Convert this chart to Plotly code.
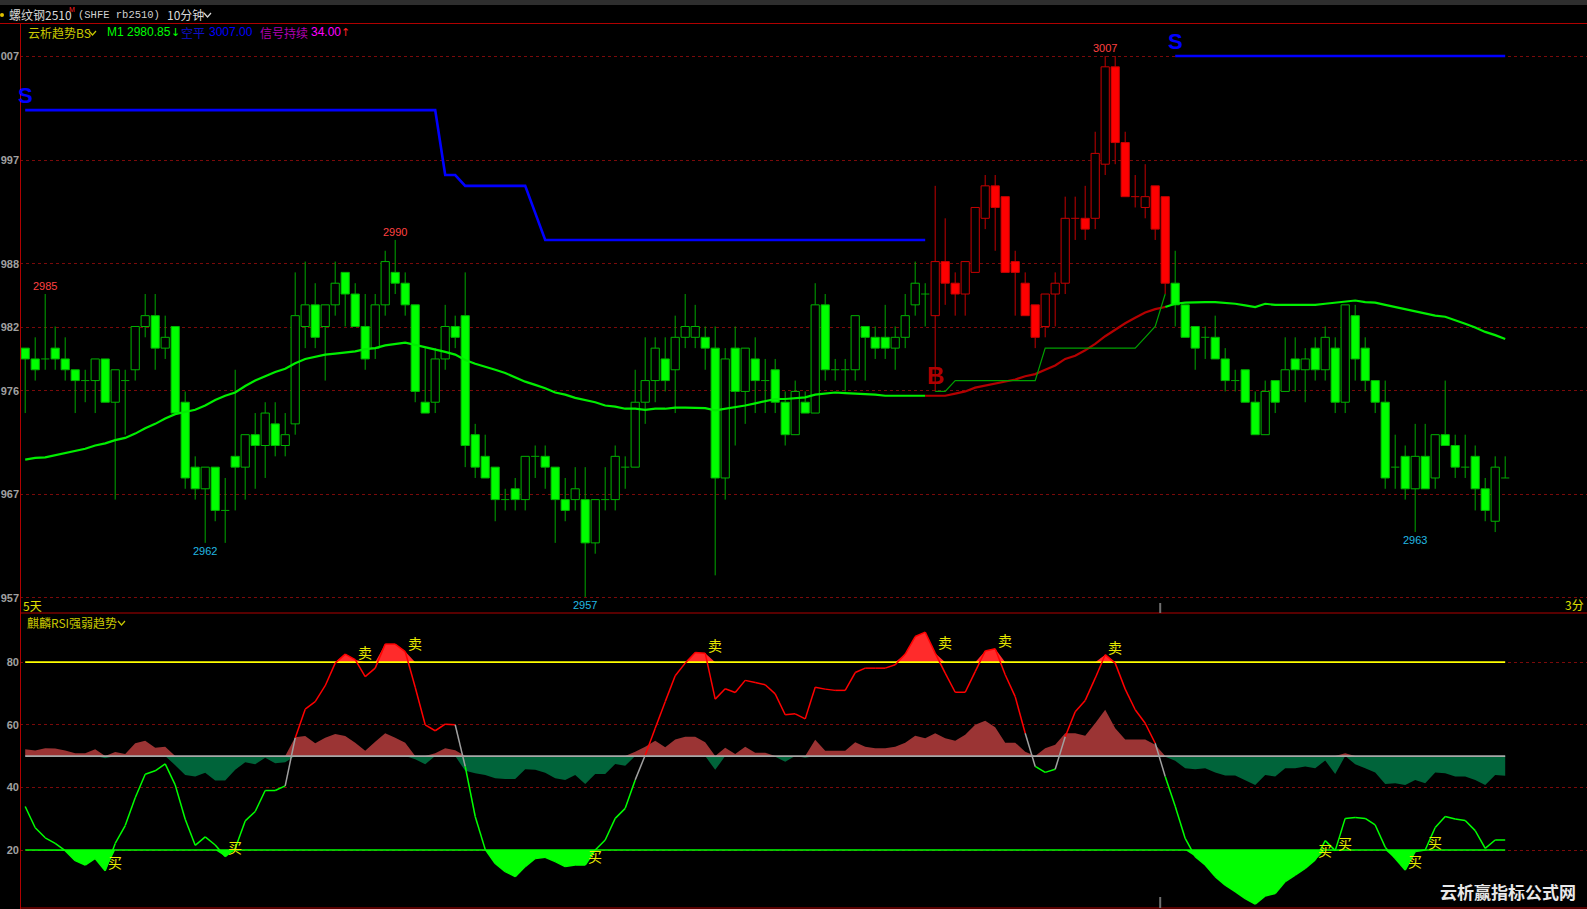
import plotly.graph_objects as go

# ---------------- data ----------------
opens = [2980,2979,2979,2980,2979,2978,2977,2977,2979,2975,
         2977,2978,2982,2983,2980,2982,2975,2969,2967,2969,
         2965,2970,2969,2972,2971,2973,2971,2973,2982,2984,
         2982,2984,2987,2985,2982,2980,2984,2987,2986,2984,
         2975,2975,2979,2982,2983,2972,2970,2969,2966,2967,
         2966,2970,2970,2969,2966,2966,2966,2962,2966,2966,
         2969,2969,2975,2977,2979,2978,2981,2981,2981,2980,
         2968,2980,2976,2979,2977,2978,2975,2972,2975,2974,
         2984,2978,2978,2978,2982,2981,2981,2980,2981,2984,
         2985,2983,2988,2986,2985,2987,2992,2995,2994,2988,
         2986,2984,2982,2985,2986,2992,2992,2992,2997,3006,
         2999,2994,2993,2995,2994,2986,2984,2982,2981,2981,
         2979,2977,2978,2975,2972,2977,2976,2979,2978,2980,
         2978,2980,2975,2983,2980,2977,2975,2969,2970,2967,
         2970,2968,2972,2971,2969,2970,2967,2964,2968]
highs = [2980,2981,2985,2982,2981,2978,2978,2979,2979,2978,
         2978,2982,2985,2985,2983,2982,2976,2970,2969,2969,
         2968,2978,2972,2974,2975,2975,2974,2987,2988,2986,
         2984,2988,2987,2986,2985,2985,2989,2990,2987,2984,
         2980,2980,2984,2983,2987,2973,2972,2969,2967,2968,
         2970,2971,2971,2969,2968,2969,2969,2966,2969,2971,
         2970,2978,2981,2981,2981,2983,2985,2984,2982,2982,
         2980,2982,2980,2981,2979,2979,2976,2977,2976,2986,
         2985,2979,2979,2983,2982,2982,2984,2982,2985,2988,
         2986,2995,2992,2987,2988,2993,2996,2996,2994,2989,
         2987,2984,2985,2987,2994,2994,2995,3000,3007,3007,
         3000,2996,2997,2995,2994,2989,2984,2982,2982,2983,
         2980,2978,2978,2976,2977,2977,2981,2981,2980,2981,
         2982,2981,2984,2984,2981,2977,2977,2972,2971,2973,
         2973,2972,2977,2972,2972,2971,2968,2970,2970]
lows = [2974,2977,2978,2978,2977,2974,2975,2974,2975,2966,
        2972,2977,2981,2978,2979,2974,2967,2966,2962,2964,
        2962,2965,2966,2967,2968,2970,2970,2972,2980,2980,
        2977,2983,2982,2982,2978,2979,2983,2985,2983,2975,
        2974,2974,2978,2980,2969,2968,2968,2964,2965,2965,
        2965,2968,2967,2962,2964,2965,2957,2961,2965,2965,
        2967,2969,2973,2975,2976,2974,2980,2980,2978,2959,
        2966,2971,2973,2974,2974,2974,2971,2972,2974,2974,
        2977,2977,2976,2977,2977,2979,2979,2978,2980,2983,
        2982,2976,2984,2983,2983,2987,2991,2989,2987,2983,
        2983,2980,2981,2982,2985,2990,2990,2991,2996,2997,
        2994,2993,2992,2990,2985,2982,2981,2978,2979,2979,
        2976,2976,2975,2972,2972,2974,2976,2976,2975,2977,
        2977,2974,2974,2977,2976,2974,2967,2967,2966,2963,
        2967,2967,2971,2968,2968,2965,2964,2963,2968]
closes = [2979,2978,2979,2979,2978,2977,2977,2979,2975,2978,
          2977,2982,2983,2980,2981,2974,2968,2967,2969,2965,
          2965,2969,2972,2971,2974,2971,2972,2983,2984,2981,
          2984,2986,2985,2982,2979,2984,2988,2986,2984,2976,
          2974,2979,2982,2981,2971,2969,2968,2966,2966,2966,
          2970,2970,2969,2966,2965,2967,2962,2966,2966,2970,
          2969,2975,2977,2980,2977,2981,2982,2982,2980,2968,
          2979,2976,2980,2977,2977,2975,2972,2976,2974,2984,
          2978,2978,2978,2983,2981,2980,2980,2981,2983,2986,
          2985,2988,2986,2985,2988,2993,2995,2993,2987,2987,
          2983,2981,2985,2986,2992,2992,2991,2998,3006,2999,
          2994,2994,2994,2991,2986,2984,2981,2980,2981,2979,
          2977,2977,2975,2972,2976,2975,2978,2978,2979,2978,
          2981,2975,2984,2979,2977,2975,2968,2969,2967,2970,
          2967,2972,2971,2969,2969,2967,2965,2969,2968]
ma1 = [2969.7,2969.85,2969.9,2970.1,2970.35,2970.5,2970.7,2971.0,2971.2,2971.5,
       2971.7,2972.1,2972.6,2973.0,2973.5,2973.9,2974.1,2974.3,2974.7,2975.2,
       2975.6,2975.9,2976.5,2977.0,2977.4,2977.8,2978.1,2978.6,2979.0,2979.2,
       2979.4,2979.5,2979.6,2979.7,2979.9,2980.0,2980.25,2980.4,2980.5,2980.3,
       2980.1,2979.9,2979.65,2979.4,2978.9,2978.55,2978.3,2978.0,2977.7,2977.3,
       2976.9,2976.6,2976.3,2975.9,2975.7,2975.4,2975.2,2975.0,2974.7,2974.6,
       2974.4,2974.4,2974.3,2974.4,2974.4,2974.5,2974.5,2974.45,2974.45,2974.25,
       2974.4,2974.5,2974.7,2974.9,2975.1,2975.3,2975.3,2975.4,2975.45,2975.7,
       2975.8,2975.9,2975.85,2975.8,2975.8,2975.7,2975.6,2975.6,2975.65,2975.65,
       2975.6,2975.6,2975.6,2975.8,2976.0,2976.35,2976.55,2976.7,2976.9,2977.1,
       2977.4,2977.6,2978.0,2978.4,2979.0,2979.3,2979.8,2980.4,2981.1,2981.7,
       2982.3,2982.8,2983.3,2983.6,2983.8,2984.1,2984.2,2984.25,2984.25,2984.25,
       2984.2,2984.1,2983.95,2983.8,2984.1,2984.0,2984.0,2984.0,2984.0,2984.0,
       2984.1,2984.2,2984.25,2984.4,2984.25,2984.2,2984.0,2983.8,2983.6,2983.35,
       2983.2,2983.0,2982.9,2982.6,2982.25,2981.9,2981.5,2981.2,2980.85]
short_stop = [3002.0]*42 + [2996.0]*2 + [2995.0]*7 + [2992.5] + [2990.0]*39 + [None]*24 + [3007.0]*34
long_stop = [None]*91 + [2976.0]*2 + [2977.0]*9 + [2980.0]*10 + [2981.0, 2982.0, 2985.0] + [None]*34
rsi = [33.9,27.1,23.9,22.1,19.8,16.6,15.2,17.3,13.4,22.1,
       27.8,36.7,44.2,45.3,47.5,40.8,29.8,21.5,24.2,21.6,
       17.9,20.5,29.3,32.3,39.0,39.0,40.5,55.8,65.0,67.4,
       72.5,79.7,82.6,80.8,75.4,78.1,85.8,85.8,83.4,72.0,
       60.0,58.1,60.2,60.0,46.7,30.7,20.2,15.7,13.1,11.5,
       14.7,17.3,17.7,16.3,14.7,15.2,15.2,20.0,23.2,30.1,
       33.3,42.4,50.3,58.9,67.4,75.7,79.7,83.1,82.9,68.2,
       71.5,70.3,74.2,73.5,72.8,69.9,63.2,63.5,61.9,72.0,
       71.4,71.0,71.0,76.7,78.1,78.1,78.1,79.2,82.6,88.2,
       89.6,82.9,76.5,70.4,70.4,77.0,83.6,84.3,76.0,69.0,
       57.3,46.7,44.8,45.8,56.2,64.2,67.8,74.9,82.4,79.7,
       71.4,64.8,60.5,54.1,43.5,34.0,23.7,17.9,15.2,11.5,
       8.8,6.7,4.5,2.7,5.3,6.1,9.9,12.0,14.1,16.8,
       23.0,19.8,30.1,30.4,30.1,28.0,20.9,17.3,13.6,19.5,
       20.0,27.2,30.7,29.9,29.4,26.2,20.5,23.2,23.2]
trend = [52.2,51.8,52.5,52.4,51.8,50.9,50.9,52.2,49.3,51.3,
         50.7,54.1,54.9,52.7,53.0,47.1,44.0,43.5,44.7,42.2,
         42.2,45.6,48.0,47.4,49.5,47.7,48.0,56.0,56.4,54.1,
         55.9,57.1,56.4,54.3,51.7,54.6,57.3,55.9,54.3,49.0,
         47.4,50.9,52.5,51.9,45.3,44.5,44.0,42.9,42.7,42.7,
         45.8,45.6,44.7,42.9,42.4,44.0,41.1,44.3,44.3,47.5,
         46.9,51.4,53.0,54.9,52.8,55.3,56.2,56.2,54.4,45.6,
         52.7,50.7,53.0,51.1,51.1,49.8,48.2,50.1,49.5,55.2,
         51.7,51.7,51.7,54.4,53.0,52.5,52.5,53.0,54.3,56.5,
         55.7,57.3,55.7,54.9,56.8,60.0,61.3,59.2,54.3,54.3,
         51.4,49.8,52.5,53.6,57.3,57.3,56.5,60.5,64.8,58.9,
         55.3,55.3,55.3,53.6,49.8,48.5,46.1,45.8,46.1,44.8,
         43.8,43.8,42.4,40.8,44.0,43.5,46.1,46.1,46.7,46.1,
         48.6,44.3,50.9,47.4,46.1,44.8,41.1,41.3,40.8,42.4,
         41.3,44.8,44.5,43.5,43.5,42.4,40.8,44.0,43.7]
sell_idx = [34, 39, 69, 92, 98, 109]
sell_val = [83.3, 86.1, 85.5, 86.5, 87.1, 84.9]
buy_idx = [9, 21, 57, 130, 132, 139, 141]
buy_val = [16.2, 21.0, 18.1, 20.0, 22.2, 16.5, 22.6]
high_label_idx = [2, 37, 108]
low_label_idx = [18, 56, 139]
long_first, long_last = 91, 114        # candles of the long (red) phase
ma_red_first, ma_red_last = 90, 114
day_break = 113.5

price_ticks = [3007.0, 2997.35, 2987.78, 2981.91, 2976.07, 2966.5, 2956.92]
price_ticktext = ['007', '997', '988', '982', '976', '967', '957']
rsi_ticks = [80, 60, 40, 20]
rsi_ticktext = ['80', '60', '40', '20']

# ---------------- layout helpers ----------------
W, H = 1587, 909
LEFT = 20
def px(x):
    return (x - LEFT) / (W - LEFT)
def py(y):
    return 1 - y / H

N = len(closes)
IDX = list(range(N))
fig = go.Figure()
SK = dict(hoverinfo='skip', showlegend=False)

styles = {
    'green': dict(fill='#00ff00', edge='#00b400', wick='#00a800'),
    'red': dict(fill='#ff0000', edge='#c80000', wick='#c40000'),
}
for ph in ('green', 'red'):
    st = styles[ph]
    sel = [i for i in IDX if (long_first <= i <= long_last) == (ph == 'red')]
    for kind in ('filled', 'hollow'):
        xs, bs, hs = [], [], []
        for i in sel:
            o, c = opens[i], closes[i]
            if (kind == 'filled' and c < o) or (kind == 'hollow' and c > o):
                xs.append(i); bs.append(min(o, c)); hs.append(abs(c - o))
        fig.add_trace(go.Bar(x=xs, y=hs, base=bs, width=0.82,
                             marker=dict(color=st['fill'] if kind == 'filled' else '#000000',
                                         line=dict(color=st['edge'], width=1)),
                             xaxis='x', yaxis='y', **SK))
    wx, wy = [], []
    for i in sel:
        o, h, l, c = opens[i], highs[i], lows[i], closes[i]
        top, bot = max(o, c), min(o, c)
        if h > top:
            wx += [i, i, None]; wy += [top, h, None]
        if l < bot:
            wx += [i, i, None]; wy += [bot, l, None]
        if o == c:
            wx += [i - 0.41, i + 0.41, None]; wy += [o, o, None]
    fig.add_trace(go.Scatter(x=wx, y=wy, mode='lines', line=dict(color=st['wick'], width=1),
                             xaxis='x', yaxis='y', **SK))

# moving average (green / red phase)
ma_g1 = [v if i <= ma_red_first else None for i, v in enumerate(ma1)]
ma_r = [v if ma_red_first <= i <= ma_red_last else None for i, v in enumerate(ma1)]
ma_g2 = [v if i >= ma_red_last else None for i, v in enumerate(ma1)]
for ys, col in ((ma_g1, '#00ee00'), (ma_g2, '#00ee00'), (ma_r, '#b40000')):
    fig.add_trace(go.Scatter(x=IDX, y=ys, mode='lines', line=dict(color=col, width=2.2),
                             connectgaps=False, xaxis='x', yaxis='y', **SK))
# stops
fig.add_trace(go.Scatter(x=IDX, y=long_stop, mode='lines', line=dict(color='#00a000', width=1.2),
                         connectgaps=False, xaxis='x', yaxis='y', **SK))
fig.add_trace(go.Scatter(x=IDX, y=short_stop, mode='lines', line=dict(color='#0000ff', width=2.6),
                         connectgaps=False, xaxis='x', yaxis='y', **SK))

# ---------------- RSI panel ----------------
R = dict(xaxis='x2', yaxis='y2')
def band(base, vals, col):
    fig.add_trace(go.Scatter(x=IDX, y=[base]*N, mode='lines', line=dict(width=0, color='rgba(0,0,0,0)'), **R, **SK))
    fig.add_trace(go.Scatter(x=IDX, y=vals, mode='lines', line=dict(width=0, color='rgba(0,0,0,0)'),
                             fill='tonexty', fillcolor=col, **R, **SK))
band(50, [max(v, 50) for v in trend], '#9b3434')
band(50, [min(v, 50) for v in trend], '#00643a')
band(80, [max(v, 80) for v in rsi], '#ff2b2b')
band(20, [min(v, 20) for v in rsi], '#00ff00')
for lv, col in ((80, '#ffff00'), (20, '#00ff00'), (50, '#a8a8a8')):
    fig.add_trace(go.Scatter(x=[0, N - 1], y=[lv, lv], mode='lines', line=dict(color=col, width=1.7), **R, **SK))
segs = {'#ff0000': ([], []), '#00ff00': ([], []), '#a0a0a0': ([], [])}
for i in range(N - 1):
    a, b = rsi[i], rsi[i + 1]
    if a >= 50 and b >= 50:
        k = '#ff0000'
    elif a < 50 and b < 50:
        k = '#00ff00'
    else:
        k = '#a0a0a0'
    segs[k][0].extend([i, i + 1, None]); segs[k][1].extend([a, b, None])
for col, (xs, ys) in segs.items():
    fig.add_trace(go.Scatter(x=xs, y=ys, mode='lines', line=dict(color=col, width=1.5),
                             connectgaps=False, **R, **SK))

# ---------------- annotations ----------------
LAT = 'Liberation Sans, Noto Sans CJK SC'
CJK = 'Noto Sans CJK SC, Liberation Sans'
anns = []
def ann(text, x, y, color, size=12, family=LAT, xanchor='left', yanchor='middle'):
    anns.append(dict(text=text, x=px(x), y=py(y), xref='paper', yref='paper', xanchor=xanchor,
                     yanchor=yanchor, showarrow=False, font=dict(color=color, size=size, family=family)))

ann('螺纹钢2510', 7, 15, '#d8d8d8', 12, CJK)
ann('M', 67, 10, '#ff2020', 7)
ann('(SHFE rb2510)', 76, 15, '#d0d0d0', 10.5, 'Liberation Mono')
ann('10分钟', 165, 15, '#d8d8d8', 12, CJK)
ann('云析趋势BS', 26, 32, '#c8c800', 12, CJK)
ann(f'M1 {ma1[-1]:.2f}', 105, 32, '#00ff00', 12)
ann('↓', 169, 32, '#00ff00', 11, 'DejaVu Sans')
ann('空平', 179, 32, '#1010c8', 12, CJK)
ann(f'{short_stop[-1]:.2f}', 207, 32, '#0000ff', 12)
last_run = max(i for i in IDX if short_stop[i] is not None and (i == 0 or short_stop[i - 1] is None))
ann('信号持续', 258, 32, '#b000b0', 12, CJK)
ann(f'{N - last_run:.2f}', 309, 32, '#ff00ff', 12)
ann('↑', 339, 32, '#ff2020', 11, 'DejaVu Sans')
ann('麒麟RSI强弱趋势', 25, 622, '#c8c800', 12, CJK)
ann('5天', 21, 605, '#e0e000', 12, CJK)
ann('3分', 1586, 604, '#e0e000', 12, CJK, xanchor='right')
ann('<b>云析赢指标公式网</b>', 1508, 891, '#e8e8e8', 17, CJK, xanchor='center')

for i in high_label_idx:
    anns.append(dict(text=f'{highs[i]:.0f}', x=i, y=highs[i], xref='x', yref='y', xanchor='center',
                     yanchor='bottom', showarrow=False, font=dict(color='#ff4040', size=11, family=LAT)))
for i in low_label_idx:
    anns.append(dict(text=f'{lows[i]:.0f}', x=i, y=lows[i], xref='x', yref='y', xanchor='center',
                     yanchor='top', showarrow=False, font=dict(color='#22b8e0', size=11, family=LAT)))
# S / B signal letters at the start of each stop run
for i in IDX:
    if short_stop[i] is not None and (i == 0 or short_stop[i - 1] is None):
        anns.append(dict(text='<b>S</b>', x=i, y=short_stop[i], xref='x', yref='y', xanchor='center',
                         yanchor='bottom', showarrow=False, font=dict(color='#0000ff', size=22, family=LAT)))
    if long_stop[i] is not None and (i == 0 or long_stop[i - 1] is None):
        anns.append(dict(text='<b>B</b>', x=i, y=long_stop[i], xref='x', yref='y', xanchor='center',
                         yanchor='bottom', showarrow=False, font=dict(color='#b00000', size=24, family=LAT)))
for i, v in zip(sell_idx, sell_val):
    anns.append(dict(text='卖', x=i, y=v, xref='x2', yref='y2', showarrow=False,
                     font=dict(color='#e8e800', size=14, family=CJK)))
for i, v in zip(buy_idx, buy_val):
    anns.append(dict(text='买', x=i, y=v, xref='x2', yref='y2', showarrow=False,
                     font=dict(color='#e8e800', size=14, family=CJK)))

# ---------------- shapes ----------------
shapes = []
RED = '#b00000'
def pline(x0, y0, x1, y1, col, w=1):
    shapes.append(dict(type='line', xref='paper', yref='paper', x0=px(x0), y0=py(y0), x1=px(x1), y1=py(y1),
                       line=dict(color=col, width=w)))
shapes.append(dict(type='rect', xref='paper', yref='paper', x0=px(0), x1=px(W), y0=py(0), y1=py(5),
                   fillcolor='#2e2e2e', line=dict(width=0), layer='below'))
pline(0, 23.5, W, 23.5, RED)
pline(20.5, 23, 20.5, H, RED)
pline(20, 613, W, 613, RED)
pline(20, 908, W, 908, RED)
shapes.append(dict(type='circle', xref='paper', yref='paper', x0=px(0), x1=px(4), y0=py(13), y1=py(17),
                   fillcolor='#e0c000', line=dict(width=0)))
def chevron(x0, x1, y0, y1, col):
    shapes.append(dict(type='path', xref='paper', yref='paper',
                       path=f'M {px(x0)},{py(y0)} L {px((x0 + x1) / 2)},{py(y1)} L {px(x1)},{py(y0)}',
                       line=dict(color=col, width=1.2)))
chevron(204, 211, 13, 17, '#d8d8d8')
chevron(89, 96, 31, 35, '#c8c800')
chevron(118, 125, 621, 625, '#c8c800')
for y0, y1 in ((603, 613), (897, 908)):
    shapes.append(dict(type='line', xref='x', yref='paper', x0=day_break, x1=day_break, y0=py(y0), y1=py(y1),
                       line=dict(color='#707070', width=2)))

xr = [-0.52, 156.18]
tick_font = dict(color='#a0a0a0', size=11, family='Liberation Sans')
fig.update_layout(
    width=W, height=H, margin=dict(l=LEFT, r=0, t=0, b=0),
    paper_bgcolor='#000000', plot_bgcolor='#000000', barmode='overlay', showlegend=False,
    xaxis=dict(domain=[0, 1], range=xr, visible=False, anchor='y'),
    xaxis2=dict(domain=[0, 1], range=xr, visible=False, anchor='y2'),
    yaxis=dict(domain=[1 - 613 / H, 1 - 23 / H], range=[2955.52, 3010.05], anchor='x',
               tickvals=price_ticks, ticktext=[f'<b>{t}</b>' for t in price_ticktext],
               showgrid=True, gridcolor='#7a0a0a', griddash='dot', gridwidth=1,
               zeroline=False, showline=False, ticks='', tickfont=tick_font),
    yaxis2=dict(domain=[1 - 908 / H, 1 - 613 / H], range=[1.47, 95.72], anchor='x2',
                tickvals=rsi_ticks, ticktext=[f'<b>{t}</b>' for t in rsi_ticktext],
                showgrid=True, gridcolor='#7a0a0a', griddash='dot', gridwidth=1,
                zeroline=False, showline=False, ticks='', tickfont=tick_font),
    annotations=anns, shapes=shapes,
)
fig.write_html('out.html', config={'displayModeBar': False},
               post_script="document.documentElement.style.margin='0';document.body.style.margin='0';"
                           "document.body.style.padding='0';document.body.style.overflow='hidden';"
                           "document.body.style.background='#000';")
